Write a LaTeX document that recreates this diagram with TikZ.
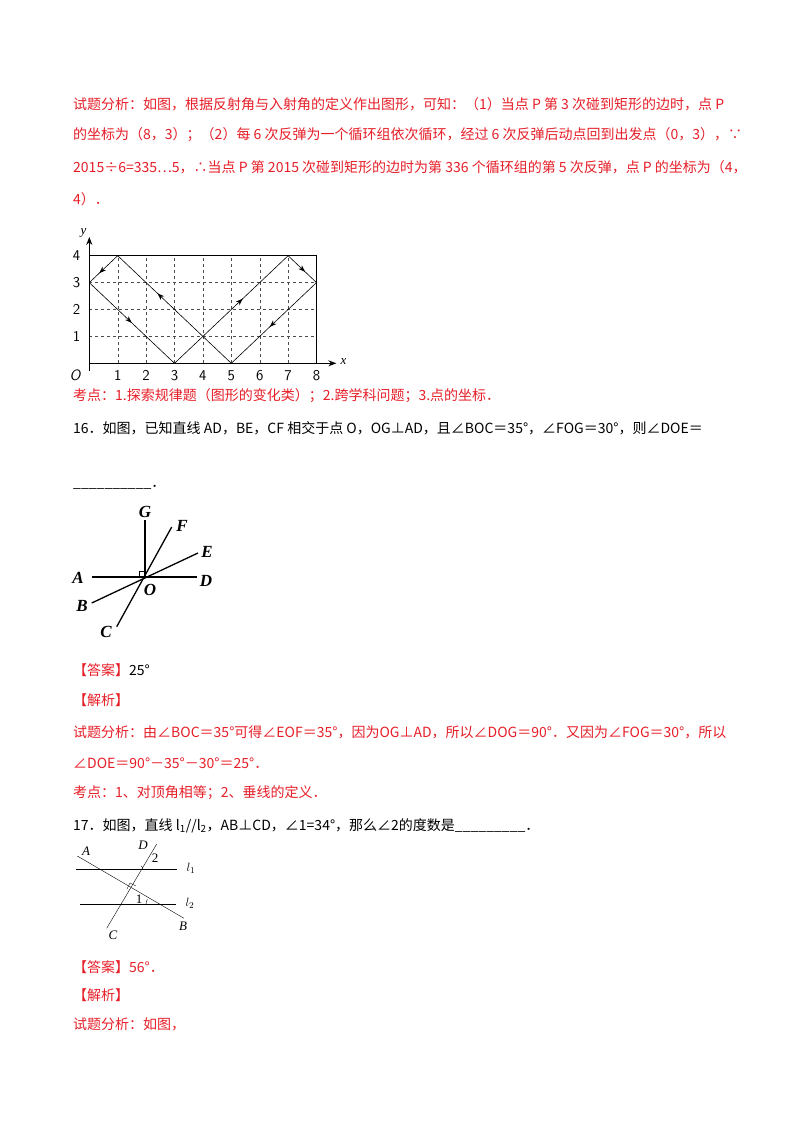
\documentclass[tikz,border=0pt]{standalone}
\usepackage{fontspec}
\setmainfont{Liberation Serif}
\newfontfamily\cjk{Noto Sans CJK SC}
\usetikzlibrary{decorations.markings,positioning,arrows.meta}
\definecolor{ansred}{RGB}{230,30,40}
\tikzset{
  line/.style={
    font=\cjk\fontsize{14}{14}\selectfont,
    anchor=west,
    inner sep=0pt
  },
  redline/.style={
    line,
    text=ansred
  },
  midarrow/.style={
    decoration={markings, mark=at position #1 with {\arrow{Stealth[length=7pt,width=5pt]}}},
    postaction={decorate}
  },
  gridline/.style={
    dashed,
    gray!60!black,
    thin
  },
  gridnum/.style={
    font=\sffamily\fontsize{15}{15}\selectfont,
    inner sep=0pt
  },
  ptlabel/.style={
    font=\bfseries\itshape\fontsize{17}{17}\selectfont,
    inner sep=0pt
  },
  smlabel/.style={
    font=\itshape\fontsize{13}{13}\selectfont,
    inner sep=0pt
  }
}

\begin{document}
\begin{tikzpicture}[x=1pt, y=-1pt]
  \useasboundingbox (0,0) rectangle (800,1132);

  \node [redline] (t1) at (73,104) {试题分析：如图，根据反射角与入射角的定义作出图形，可知：（1）当点 P 第 3 次碰到矩形的边时，点 P};
  \node [redline] (t2) at (73,135) {的坐标为（8，3）；（2）每 6 次反弹为一个循环组依次循环，经过 6 次反弹后动点回到出发点（0，3），∵};
  \node [redline] (t3) at (73,167) {2015÷6=335…5，∴当点 P 第 2015 次碰到矩形的边时为第 336 个循环组的第 5 次反弹，点 P 的坐标为（4，};
  \node [redline] (t4) at (73,199) {4）．};

  % reflection grid
  \begin{scope}[shift={(89.3,363.3)}, x=28.4pt, y=26.9pt]
    \foreach \i in {1,...,7}
      \draw [gridline] (\i,0) -- (\i,4);
    \foreach \j in {1,2,3}
      \draw [gridline] (0,\j) -- (8,\j);
    \draw [semithick] (0,4) -- (8,4) -- (8,0);
    \draw [line width=1.3pt, -{Stealth[length=8pt,width=6pt,open]}] (0,0) -- (8.7,0);
    \draw [line width=1.3pt, -{Stealth[length=8pt,width=6pt,open]}] (0,-0.3) -- (0,4.7);
    \draw [semithick, midarrow=0.5] (0,3) -- (3,0);
    \draw [semithick, midarrow=0.6] (3,0) -- (7,4);
    \draw [semithick, midarrow=0.6] (7,4) -- (8,3);
    \draw [semithick, midarrow=0.55] (8,3) -- (5,0);
    \draw [semithick, midarrow=0.65] (5,0) -- (1,4);
    \draw [semithick, midarrow=0.65] (1,4) -- (0,3);
    \foreach \i in {1,...,8}
      \node [gridnum] (xl\i) at (\i,-0.45) {\i};
    \foreach \j in {1,...,4}
      \node [gridnum] (yl\j) at (-0.45,\j) {\j};
    \node [gridnum, font=\sffamily\itshape\fontsize{15}{15}\selectfont] (orig) at (-0.5,-0.45) {O};
    \node [smlabel] (xlab) at (8.95,0.05) {x};
    \node [smlabel] (ylab) at (-0.2,4.85) {y};
  \end{scope}

  \node [redline] (k1) at (73,396) {考点：1.探索规律题（图形的变化类）；2.跨学科问题；3.点的坐标．};
  \node [line] (q16) at (73,428) {16．如图，已知直线 AD，BE，CF 相交于点 O，OG⊥AD，且∠BOC＝35°，∠FOG＝30°，则∠DOE＝};
  \node [line] (q16b) at (73,487) {\_\_\_\_\_\_\_\_\_\_．};

  % intersecting lines
  \coordinate (O) at (145,577);
  \node [ptlabel] (G) at (145,512) {G};
  \node [ptlabel] (F) at (182,526) {F};
  \node [ptlabel] (E) at (207,552) {E};
  \node [ptlabel] (A) at (78,578) {A};
  \node [ptlabel] (D) at (206,581) {D};
  \node [ptlabel] (B) at (82,606) {B};
  \node [ptlabel] (C) at (106,632) {C};
  \node [ptlabel] (Olab) at (150,590) {O};
  \draw [line width=1.3pt] (92,577) -- (197,577);
  \draw [line width=1.3pt] (O) -- (145,520);
  \draw [line width=1.3pt] (171.7,527) -- (116.7,626.7);
  \draw [line width=1.3pt] (198,553) -- (91.7,603);
  \draw [thick] (139,577) -- (139,571) -- (145,571);

  \node [line] (ans16) at (73,670) {\textcolor{ansred}{【答案】}25°};
  \node [redline] (jx16) at (73,700) {【解析】};
  \node [redline] (s1) at (73,732) {试题分析：由∠BOC＝35°可得∠EOF＝35°，因为OG⊥AD，所以∠DOG＝90°．又因为∠FOG＝30°，所以};
  \node [redline] (s2) at (73,763) {∠DOE＝90°－35°－30°＝25°．};
  \node [redline] (k2) at (73,793) {考点：1、对顶角相等；2、垂线的定义．};
  \node [line] (q17) at (73,826) {17．如图，直线 l\textsubscript{1}//l\textsubscript{2}，AB⊥CD，∠1=34°，那么∠2的度数是\_\_\_\_\_\_\_\_\_．};

  % parallel lines
  \draw (76,869.3) -- (176.7,869.3);
  \draw (80,904.3) -- (176,904.3);
  \draw (77.3,856) -- (184,918.3);
  \draw (106.7,928.3) -- (156.7,844);
  \draw (127,889) -- (130,883) -- (136,886);
  \draw (143,869.3) arc (0:-60:4);
  \draw (146,904.3) arc (180:210:10);
  \node [smlabel] (pA) at (86,851) {A};
  \node [smlabel] (pD) at (143,845) {D};
  \node [smlabel, font=\fontsize{13}{13}\selectfont] (p2) at (155,858) {2};
  \node [smlabel] (pl1) at (191,868) {$l_1$};
  \node [smlabel, font=\fontsize{13}{13}\selectfont] (p1) at (139,899) {1};
  \node [smlabel] (pl2) at (190,903) {$l_2$};
  \node [smlabel] (pB) at (183,926) {B};
  \node [smlabel] (pC) at (113,935) {C};

  \node [line] (ans17) at (73,967) {\textcolor{ansred}{【答案】56°．}};
  \node [redline] (jx17) at (73,995) {【解析】};
  \node [redline] (s3) at (73,1024) {试题分析：如图，};
\end{tikzpicture}
\end{document}
